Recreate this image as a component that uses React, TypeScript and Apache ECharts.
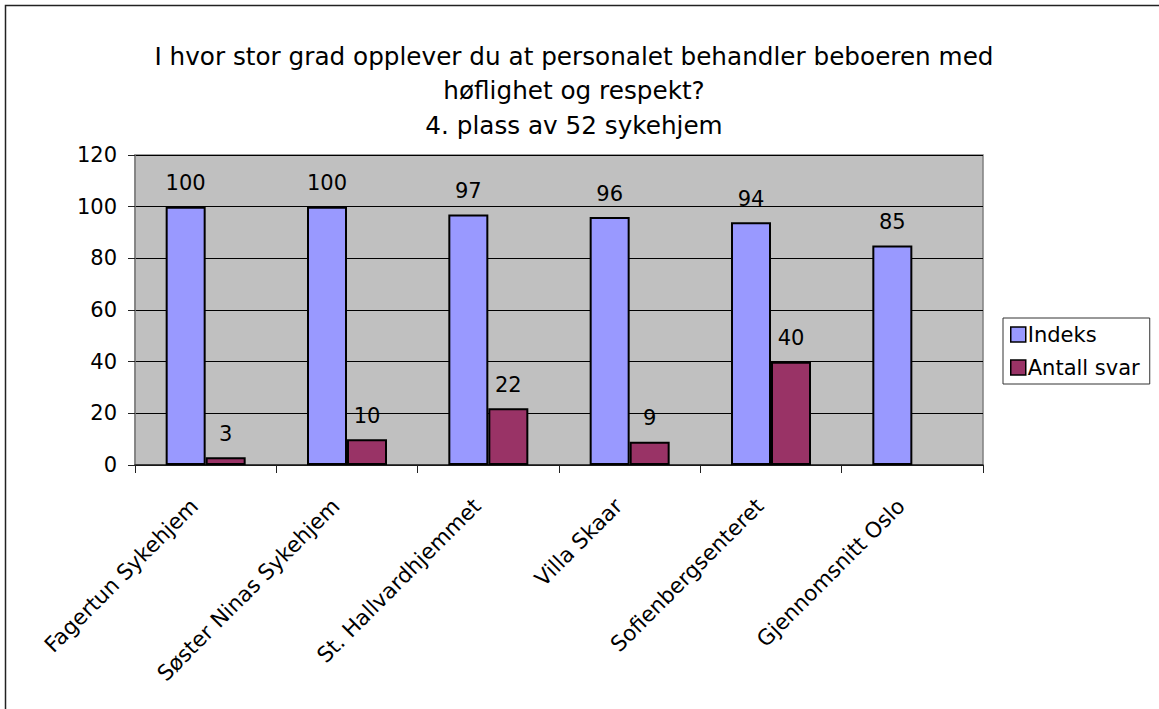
import React, { useEffect, useRef } from "react";
import * as echarts from "echarts";

const titleLines = [
  "I hvor stor grad opplever du at personalet behandler beboeren med",
  "høflighet og respekt?",
  "4. plass av 52 sykehjem",
];
const categories = [
  "Fagertun Sykehjem",
  "Søster Ninas Sykehjem",
  "St. Hallvardhjemmet",
  "Villa Skaar",
  "Sofienbergsenteret",
  "Gjennomsnitt Oslo",
];
const indeks = [100, 100, 97, 96, 94, 85];
const antallSvar: (number | null)[] = [3, 10, 22, 9, 40, null];
const seriesNames = ["Indeks", "Antall svar"];

const FONT = "'DejaVu Sans', 'Liberation Sans', Arial, sans-serif";

export default function App() {
  const ref = useRef<HTMLDivElement>(null);
  useEffect(() => {
    if (!ref.current) return;
    const chart = echarts.init(ref.current, undefined, { renderer: "svg" });
    chart.setOption({
      animation: false,
      backgroundColor: "#ffffff",
      textStyle: { fontFamily: FONT, color: "#000" },
      title: {
        text: titleLines.join("\n"),
        left: 569,
        top: 34,
        textAlign: "center",
        textStyle: {
          fontFamily: FONT,
          fontSize: 24.7,
          fontWeight: "normal",
          color: "#000",
          lineHeight: 34.5,
        },
      },
      graphic: [
        {
          type: "polyline",
          shape: { points: [[5.5, 709], [5.5, 5.5], [1159, 5.5]] },
          style: { stroke: "#222", lineWidth: 1.5, fill: null },
          silent: true,
        },
      ],
      legend: {
        orient: "vertical",
        left: 1003,
        top: 318,
        padding: [6, 10, 6, 7],
        itemGap: 12,
        itemWidth: 15,
        itemHeight: 15,
        itemStyle: { borderColor: "#000", borderWidth: 1.5 },
        borderColor: "#333",
        borderWidth: 1,
        backgroundColor: "#fff",
        textStyle: { fontFamily: FONT, fontSize: 21, color: "#000", padding: [0, 0, 0, -3] },
        data: seriesNames,
        icon: "rect",
      },
      grid: {
        left: 135,
        top: 155,
        width: 848,
        height: 310,
        show: true,
        backgroundColor: "#C0C0C0",
        borderColor: "#808080",
        borderWidth: 1.5,
      },
      xAxis: {
        type: "category",
        data: categories,
        axisLine: { show: true, lineStyle: { color: "#222", width: 1.5 } },
        axisTick: { show: true, length: 8, lineStyle: { color: "#222" } },
        axisLabel: {
          rotate: 45,
          interval: 0,
          margin: 26,
          padding: [0, 16, 8, 0],
          fontFamily: FONT,
          fontSize: 21.5,
          color: "#000",
        },
      },
      yAxis: {
        type: "value",
        min: 0,
        max: 120,
        interval: 20,
        axisLine: { show: true, lineStyle: { color: "#808080", width: 1.5 } },
        axisTick: { show: true, length: 7, lineStyle: { color: "#222" } },
        axisLabel: { margin: 18, fontFamily: FONT, fontSize: 21, color: "#000" },
        splitLine: { show: true, lineStyle: { color: "#000", width: 1 } },
      },
      series: [
        {
          name: seriesNames[0],
          type: "bar",
          data: indeks,
          barWidth: 40,
          barGap: "0%",
          itemStyle: { color: "#9999FF", borderColor: "#000", borderWidth: 2 },
          label: {
            show: true,
            position: "top",
            distance: 13,
            fontFamily: FONT,
            fontSize: 21,
            color: "#000",
          },
        },
        {
          name: seriesNames[1],
          type: "bar",
          data: antallSvar,
          barWidth: 40,
          barGap: "0%",
          itemStyle: { color: "#993366", borderColor: "#000", borderWidth: 2 },
          label: {
            show: true,
            position: "top",
            distance: 13,
            fontFamily: FONT,
            fontSize: 21,
            color: "#000",
          },
        },
      ],
    });
    return () => chart.dispose();
  }, []);
  return (
    <div
      ref={ref}
      style={{ position: "absolute", left: 0, top: 0, width: 1159, height: 709 }}
    />
  );
}
